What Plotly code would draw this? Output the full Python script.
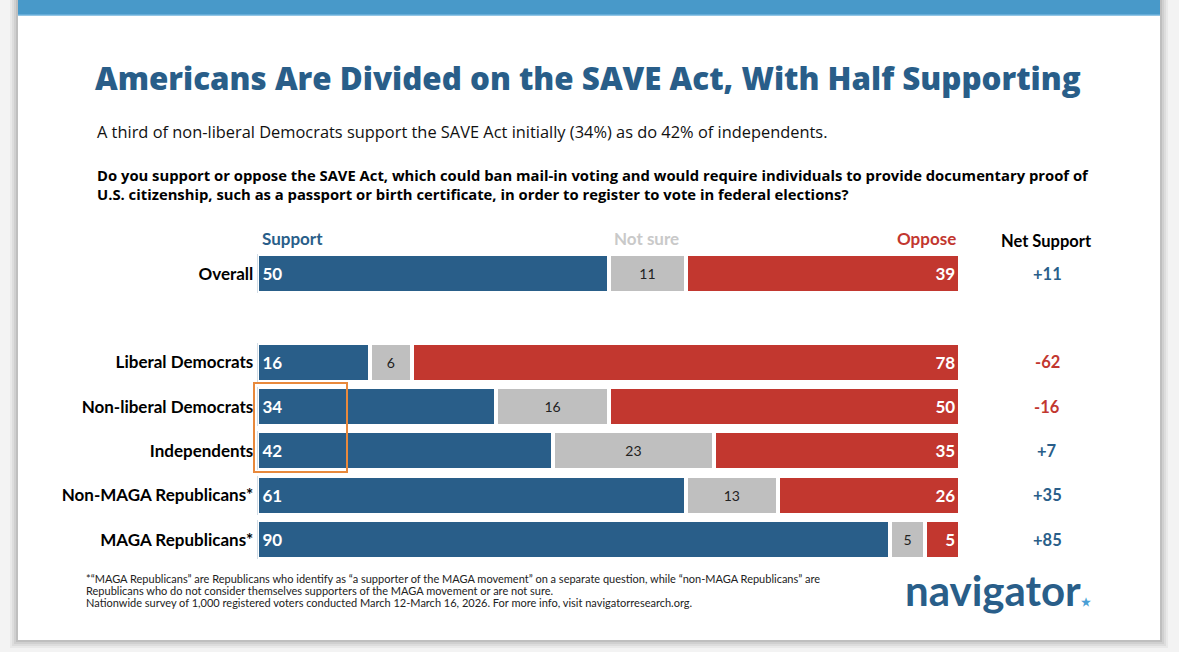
import plotly.graph_objects as go

W, H = 1179, 652

# ---- data ----
categories = ["Overall", "Liberal Democrats", "Non-liberal Democrats", "Independents",
              "Non-MAGA Republicans*", "MAGA Republicans*"]
axis_order = ["Overall", " ", "Liberal Democrats", "Non-liberal Democrats", "Independents",
              "Non-MAGA Republicans*", "MAGA Republicans*"]
support = [50, 16, 34, 42, 61, 90]
not_sure = [11, 6, 16, 23, 13, 5]
oppose = [39, 78, 50, 35, 26, 5]
net_support = [11, -62, -16, 7, 35, 85]

BLUE = "#295e89"
GRAY = "#bfbfbf"
RED = "#c2372f"
FONT = "Lato"
WIDE = "Open Sans"


def px(x):
    return x / W


def py(y):
    return 1 - y / H


fig = go.Figure()

common = dict(orientation="h", width=0.88, textposition="inside", constraintext="none",
              cliponaxis=False, marker_line=dict(color="white", width=4), hoverinfo="skip")

fig.add_trace(go.Bar(y=categories, x=support, name="Support", marker_color=BLUE,
                     text=[str(v) for v in support], texttemplate="\u2009%{text}", insidetextanchor="start",
                     textfont=dict(family=FONT, size=17, color="white", weight="bold"), **common))
fig.add_trace(go.Bar(y=categories, x=not_sure, name="Not sure", marker_color=GRAY,
                     text=[str(v) for v in not_sure], insidetextanchor="middle",
                     textfont=dict(family=FONT, size=14, color="#222222"), **common))
fig.add_trace(go.Bar(y=categories, x=oppose, name="Oppose", marker_color=RED,
                     text=[str(v) for v in oppose], texttemplate="%{text}\u2009", insidetextanchor="end",
                     textfont=dict(family=FONT, size=17, color="white", weight="bold"), **common))

shapes = []
# page shadow + card
for i, a in enumerate([0.04, 0.05, 0.06, 0.08]):
    d = 8 - 2 * i
    shapes.append(dict(type="rect", xref="paper", yref="paper", x0=px(18 - d), x1=px(1160 + d),
                       y0=py(640 + d), y1=1, fillcolor=f"rgba(0,0,0,{a})", line_width=0, layer="below"))
shapes.append(dict(type="rect", xref="paper", yref="paper", x0=px(18), x1=px(1160), y0=py(640), y1=1,
                   fillcolor="white", line_width=0, layer="below"))
shapes.append(dict(type="rect", xref="paper", yref="paper", x0=px(18), x1=px(1160), y0=py(15), y1=1,
                   fillcolor="#4899c9", line_width=0, layer="below"))
shapes.append(dict(type="line", xref="paper", yref="paper", x0=px(18), x1=px(1160), y0=py(15), y1=py(15),
                   line=dict(color="#6fb3dc", width=1.5), layer="below"))
# highlight box
shapes.append(dict(type="rect", xref="paper", yref="paper", x0=px(254), x1=px(347), y0=py(472), y1=py(383),
                   line=dict(color="#e8893c", width=2), fillcolor="rgba(0,0,0,0)"))

ann = []


def text(x, y, s, size, color="#000000", anchor="left", bold=False, family=FONT, weight=None):
    w = weight if weight else ("bold" if bold else "normal")
    ann.append(dict(xref="paper", yref="paper", x=px(x), y=py(y), text=s, showarrow=False,
                    xanchor=anchor, yanchor="middle", align=anchor,
                    font=dict(family=family, size=size, color=color, weight=w)))


text(93, 78, "Americans Are Divided on the SAVE Act, With Half Supporting", 31.3, BLUE, family=WIDE, weight=800)
text(95, 131, "A third of non-liberal Democrats support the SAVE Act initially (34%) as do 42% of independents.",
     16.4, "#111111", family=WIDE)
text(95, 175, "Do you support or oppose the SAVE Act, which could ban mail-in voting and would require individuals to provide documentary proof of",
     14.8, "#000000", bold=True, family=WIDE)
text(95, 194, "U.S. citizenship, such as a passport or birth certificate, in order to register to vote in federal elections?",
     14.8, "#000000", bold=True, family=WIDE)

text(260, 238, "Support", 17, BLUE, bold=True)
text(612, 238, "Not sure", 17, "#c9c9c9", bold=True)
text(958, 238, "Oppose", 17, RED, "right", bold=True)
text(1046, 241, "Net Support", 16.5, "#000000", "center", bold=True)

for c, n in zip(categories, net_support):
    s = f"+{n}" if n > 0 else f"{n}"
    ann.append(dict(xref="paper", yref="y", x=px(1047), y=c, text=s, showarrow=False, xanchor="center",
                    yanchor="middle", font=dict(family=FONT, size=16.5, color=BLUE if n > 0 else RED,
                                                weight="bold")))

foot = ["*“MAGA Republicans” are Republicans who identify as “a supporter of the MAGA movement” on a separate question, while “non-MAGA Republicans” are",
        "Republicans who do not consider themselves supporters of the MAGA movement or are not sure.",
        "Nationwide survey of 1,000 registered voters conducted March 12-March 16, 2026. For more info, visit navigatorresearch.org."]
for i, f in enumerate(foot):
    text(84, 578 + 12 * i, f, 11, "#222222")

ann.append(dict(xref="paper", yref="paper", x=px(903), y=py(590), showarrow=False, xanchor="left",
                yanchor="middle",
                text="navigator<span style='color:#4a9fd6;font-size:11px'>★</span>",
                font=dict(family=FONT, size=42, color=BLUE, weight="bold")))

fig.update_layout(
    width=W, height=H, barmode="stack", showlegend=False,
    margin=dict(l=0, r=0, t=0, b=0),
    paper_bgcolor="#f3f3f3", plot_bgcolor="rgba(0,0,0,0)",
    shapes=shapes, annotations=ann,
    xaxis=dict(domain=[px(257.3), px(960.3)], range=[0, 100], visible=False, fixedrange=True),
    yaxis=dict(domain=[py(561.7), py(251.6)], type="category", categoryorder="array",
               categoryarray=axis_order, range=[6.5, -0.5], showgrid=False, zeroline=False,
               showline=False, ticks="", ticklabelstandoff=3,
               tickfont=dict(family=FONT, size=17, color="#000000", weight="bold")),
)

fig.write_html("out.html")
